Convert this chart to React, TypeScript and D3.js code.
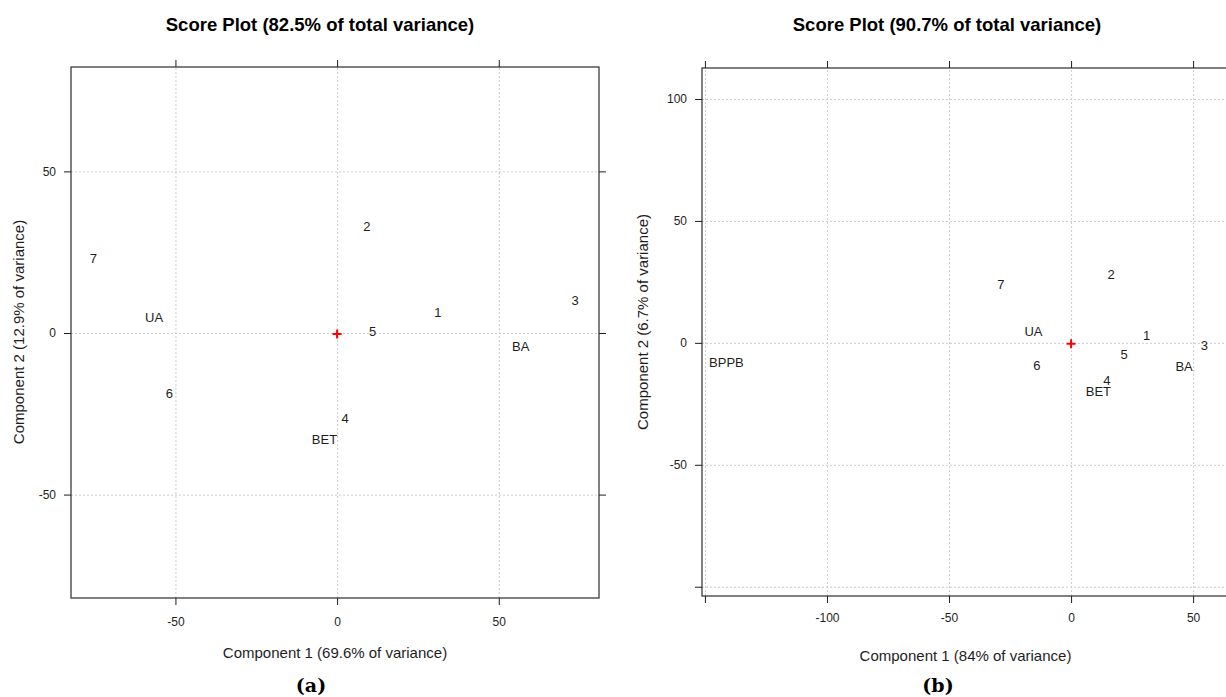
import { useRef, useEffect } from 'react'
import { select, scaleLinear, axisBottom, axisLeft, axisTop, axisRight } from 'd3'

const FONT = "'Liberation Sans', Arial, sans-serif"

// panel (a)
const aTitle = 'Score Plot (82.5% of total variance)'
const aXLabel = 'Component 1 (69.6% of variance)'
const aYLabel = 'Component 2 (12.9% of variance)'
const aNames = ['7', 'UA', '6', '2', '1', '5', '3', 'BA', '4', 'BET']
const aX = [-75.4, -56.6, -51.9, 9.2, 31.2, 11.0, 73.6, 56.8, 2.5, -3.9]
const aY = [23.2, 4.9, -18.8, 32.9, 6.3, 0.6, 10.2, -4.0, -26.3, -32.9]
const aXTicks = [-50, 0, 50]
const aXTickLabels = ['-50', '0', '50']
const aYTicks = [-50, 0, 50]
const aYTickLabels = ['-50', '0', '50']

// panel (b)
const bTitle = 'Score Plot (90.7% of total variance)'
const bXLabel = 'Component 1 (84% of variance)'
const bYLabel = 'Component 2 (6.7% of variance)'
const bNames = ['7', '2', 'UA', '1', '3', '5', '6', 'BA', '4', 'BET', 'BPPB']
const bX = [-28.8, 16.4, -15.4, 31.0, 54.6, 21.7, -14.0, 46.3, 14.7, 11.2, -141.2]
const bY = [23.8, 27.9, 4.9, 2.9, -1.2, -4.5, -9.3, -9.7, -15.2, -19.7, -8.1]
const bXTicks = [-150, -100, -50, 0, 50]
const bXTickLabels = ['', '-100', '-50', '0', '50']
const bYTicks = [-100, -50, 0, 50, 100]
const bYTickLabels = ['', '-50', '0', '50', '100']

const panels = [
  {
    title: aTitle, xLabel: aXLabel, yLabel: aYLabel, tag: '(a)',
    names: aNames, xs: aX, ys: aY,
    xTicks: aXTicks, xTickLabels: aXTickLabels, yTicks: aYTicks, yTickLabels: aYTickLabels,
    xDomain: [-82.3, 81], yDomain: [-82, 82.3],
    left: 71, right: 599, top: 67, bottom: 598,
    titleX: 320, xPad: 12, xLabelY: 658, yLabelX: 24, yLabelY: 332, tagX: 311,
  },
  {
    title: bTitle, xLabel: bXLabel, yLabel: bYLabel, tag: '(b)',
    names: bNames, xs: bX, ys: bY,
    xTicks: bXTicks, xTickLabels: bXTickLabels, yTicks: bYTicks, yTickLabels: bYTickLabels,
    xDomain: [-151.2, 64.7], yDomain: [-103.8, 112.7],
    left: 702, right: 1229, top: 68, bottom: 596,
    titleX: 947, xPad: 10, xLabelY: 661, yLabelX: 648, yLabelY: 322, tagX: 938,
  },
]

function drawPanel(svg, p) {
  const x = scaleLinear().domain(p.xDomain).range([p.left, p.right])
  const y = scaleLinear().domain(p.yDomain).range([p.bottom, p.top])
  const innerW = p.right - p.left
  const innerH = p.bottom - p.top

  const g = svg.append('g').attr('font-family', FONT)

  // grid
  g.append('g')
    .attr('transform', `translate(0,${p.bottom})`)
    .call(axisBottom(x).tickValues(p.xTicks).tickSize(-innerH).tickFormat(() => ''))
    .call((s) => s.select('.domain').remove())
    .selectAll('line')
    .attr('stroke', '#cccccc')
    .attr('stroke-dasharray', '2,2')
  g.append('g')
    .attr('transform', `translate(${p.left},0)`)
    .call(axisLeft(y).tickValues(p.yTicks).tickSize(-innerW).tickFormat(() => ''))
    .call((s) => s.select('.domain').remove())
    .selectAll('line')
    .attr('stroke', '#cccccc')
    .attr('stroke-dasharray', '2,2')

  // box
  g.append('rect')
    .attr('x', p.left)
    .attr('y', p.top)
    .attr('width', innerW)
    .attr('height', innerH)
    .attr('fill', 'none')
    .attr('stroke', '#3c3c3c')
    .attr('stroke-width', 1.3)

  // axes
  const styleAxis = (s) => {
    s.select('.domain').remove()
    s.attr('font-family', FONT).attr('font-size', 12).attr('color', '#1e1e1e')
  }
  g.append('g')
    .attr('transform', `translate(0,${p.bottom})`)
    .call(axisBottom(x).tickValues(p.xTicks).tickSize(7).tickPadding(p.xPad)
      .tickFormat((d, i) => p.xTickLabels[i]))
    .call(styleAxis)
  g.append('g')
    .attr('transform', `translate(0,${p.top})`)
    .call(axisTop(x).tickValues(p.xTicks).tickSize(7).tickFormat(() => ''))
    .call(styleAxis)
  g.append('g')
    .attr('transform', `translate(${p.left},0)`)
    .call(axisLeft(y).tickValues(p.yTicks).tickSize(7).tickPadding(8)
      .tickFormat((d, i) => p.yTickLabels[i]))
    .call(styleAxis)
  g.append('g')
    .attr('transform', `translate(${p.right},0)`)
    .call(axisRight(y).tickValues(p.yTicks).tickSize(7).tickFormat(() => ''))
    .call(styleAxis)

  // labels of the scores
  g.append('g')
    .selectAll('text')
    .data(p.names)
    .join('text')
    .text((d) => d)
    .attr('x', (d, i) => x(p.xs[i]))
    .attr('y', (d, i) => y(p.ys[i]))
    .attr('dy', '0.36em')
    .attr('text-anchor', 'middle')
    .attr('font-size', 13)
    .attr('fill', '#1e1e1e')

  // origin marker
  const cx = x(0)
  const cy = y(0) + 1
  g.append('path')
    .attr('d', `M${cx - 4.5},${cy}H${cx + 4.5}M${cx},${cy - 4.5}V${cy + 4.5}`)
    .attr('stroke', '#ff0000')
    .attr('stroke-width', 2)

  // titles
  g.append('text')
    .text(p.title)
    .attr('x', p.titleX)
    .attr('y', 31)
    .attr('text-anchor', 'middle')
    .attr('font-weight', 'bold')
    .attr('font-size', 18.5)
    .attr('fill', '#000')

  g.append('text')
    .text(p.xLabel)
    .attr('x', (p.left + p.right) / 2)
    .attr('y', p.xLabelY)
    .attr('text-anchor', 'middle')
    .attr('font-size', 15)
    .attr('fill', '#1e1e1e')

  g.append('text')
    .text(p.yLabel)
    .attr('transform', `translate(${p.yLabelX},${p.yLabelY}) rotate(-90)`)
    .attr('text-anchor', 'middle')
    .attr('font-size', 15)
    .attr('fill', '#1e1e1e')

  g.append('text')
    .text(p.tag)
    .attr('x', p.tagX)
    .attr('y', 692)
    .attr('text-anchor', 'middle')
    .attr('font-family', "'DejaVu Serif', serif")
    .attr('font-weight', 'bold')
    .attr('font-size', 19)
    .attr('fill', '#000')
}

const App = () => {
  const svgRef = useRef(null)

  useEffect(() => {
    const svg = select(svgRef.current)
    svg.selectAll('*').remove()
    panels.forEach((p) => drawPanel(svg, p))
  }, [])

  return (
    <svg
      ref={svgRef}
      width={1226}
      height={697}
      style={{ position: 'fixed', left: 0, top: 0, background: '#fff' }}
    ></svg>
  )
}

export default App
